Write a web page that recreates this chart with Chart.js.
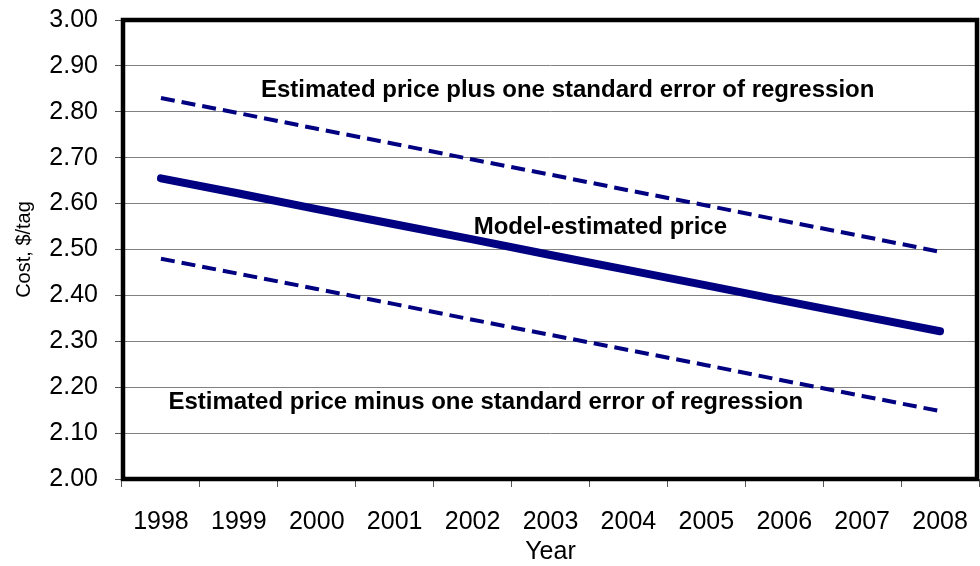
<!DOCTYPE html>
<html>
<head>
<meta charset="utf-8">
<script src="https://cdn.jsdelivr.net/npm/chart.js@4"></script>
<style>
  html, body { margin: 0; padding: 0; background: #fff; }
  #wrap { width: 980px; height: 566px; }
</style>
</head>
<body>
<div id="wrap"><canvas id="costChart" width="980" height="566"></canvas></div>
<script>
const years = ['1998', '1999', '2000', '2001', '2002', '2003', '2004', '2005', '2006', '2007', '2008'];
const modelPrice = [2.655, 2.622, 2.588, 2.555, 2.522, 2.488, 2.455, 2.422, 2.388, 2.355, 2.322];
const plusOneSE = [2.830, 2.797, 2.763, 2.730, 2.696, 2.663, 2.629, 2.596, 2.562, 2.529, 2.495];
const minusOneSE = [2.480, 2.447, 2.414, 2.381, 2.347, 2.314, 2.281, 2.248, 2.214, 2.181, 2.148];

// annotation text, placed at [category index, value]
const notes = [
  { text: 'Estimated price plus one standard error of regression', x: 5.22, y: 2.847 },
  { text: 'Model-estimated price', x: 5.64, y: 2.549 },
  { text: 'Estimated price minus one standard error of regression', x: 4.17, y: 2.168 }
];

const navy = '#000080';
const fontFamily = 'Arial, "Liberation Sans", sans-serif';

const frameAndNotes = {
  id: 'frameAndNotes',
  afterDatasetsDraw(chart) {
    const { ctx, chartArea, scales } = chart;
    ctx.save();
    ctx.font = 'bold 24px ' + fontFamily;
    ctx.fillStyle = '#000';
    ctx.textAlign = 'center';
    ctx.textBaseline = 'middle';
    notes.forEach(n => {
      ctx.fillText(n.text, scales.x.getPixelForValue(n.x), scales.y.getPixelForValue(n.y));
    });
    ctx.strokeStyle = '#000';
    ctx.lineWidth = 4.5;
    ctx.strokeRect(chartArea.left + 1, chartArea.top, chartArea.right - chartArea.left - 3, chartArea.bottom - chartArea.top);
    ctx.restore();
  }
};

new Chart(document.getElementById('costChart').getContext('2d'), {
  type: 'line',
  data: {
    labels: years,
    datasets: [
      {
        label: 'Estimated price plus one standard error of regression',
        data: plusOneSE,
        borderColor: navy,
        borderWidth: 4,
        borderDash: [14, 7],
        pointRadius: 0,
        fill: false,
        tension: 0
      },
      {
        label: 'Model-estimated price',
        data: modelPrice,
        borderColor: navy,
        borderWidth: 8,
        borderCapStyle: 'round',
        pointRadius: 0,
        fill: false,
        tension: 0
      },
      {
        label: 'Estimated price minus one standard error of regression',
        data: minusOneSE,
        borderColor: navy,
        borderWidth: 4,
        borderDash: [14, 7],
        pointRadius: 0,
        fill: false,
        tension: 0
      }
    ]
  },
  options: {
    responsive: false,
    animation: false,
    layout: { padding: { top: 20, right: 1, left: 0, bottom: 0 } },
    plugins: {
      legend: { display: false },
      tooltip: { enabled: false }
    },
    scales: {
      x: {
        offset: true,
        afterFit(scale) {
          scale.height = 87;
          scale.paddingLeft = 0;
          scale.paddingRight = 0;
        },
        grid: {
          offset: true,
          drawOnChartArea: false,
          tickLength: 8,
          color: '#555',
          tickColor: '#555'
        },
        border: { display: false },
        ticks: {
          color: '#000',
          padding: 20,
          maxRotation: 0,
          autoSkip: false,
          font: { family: fontFamily, size: 25 }
        },
        title: {
          display: true,
          text: 'Year',
          color: '#000',
          padding: { top: 0, bottom: -1 },
          font: { family: fontFamily, size: 25 }
        }
      },
      y: {
        min: 2.0,
        max: 3.0,
        afterFit(scale) {
          scale.width = 122;
          scale.paddingTop = 0;
          scale.paddingBottom = 0;
        },
        grid: {
          color: '#808080',
          tickColor: '#555',
          tickLength: 7,
          lineWidth: 1
        },
        border: { display: false },
        ticks: {
          stepSize: 0.1,
          color: '#000',
          padding: 17,
          font: { family: fontFamily, size: 25 },
          callback: v => v.toFixed(2)
        },
        title: {
          display: true,
          text: 'Cost, $/tag',
          color: '#000',
          padding: { top: 12, bottom: 0 },
          font: { family: fontFamily, size: 20 }
        }
      }
    }
  },
  plugins: [frameAndNotes]
});
</script>
</body>
</html>
